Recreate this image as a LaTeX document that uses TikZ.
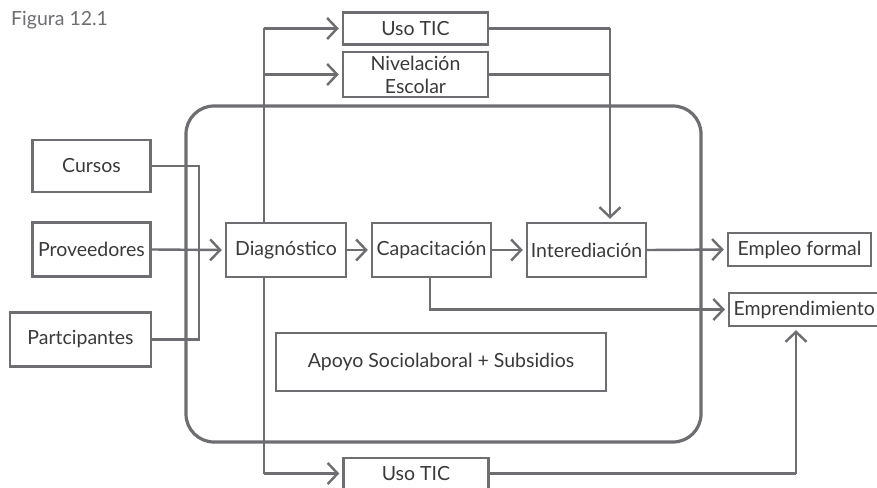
\documentclass[tikz,border=0pt]{standalone}
\usepackage{fontspec}
\setmainfont{Lato}
\usetikzlibrary{arrows.meta}
\definecolor{ln}{HTML}{6E6E72}
\definecolor{tx}{HTML}{3A3A3C}
\begin{document}
\begin{tikzpicture}[x=1pt,y=-1pt,
  box/.style={draw=ln,line width=2.4pt,fill=white,text=tx,font=\fontsize{19.5}{23}\selectfont,inner sep=1pt,align=center},
  con/.style={draw=ln,line width=2.4pt},
  arr/.style={con,-{Straight Barb[length=10pt,width=21pt]},shorten >=3pt}]
\clip (0,0) rectangle (877,487);
\fill[white] (0,0) rectangle (877,487);
\node[text=ln,font=\fontsize{19.5}{23}\selectfont,anchor=west,inner sep=0pt] (fig) at (11,20) {Figura 12.1};
% big rounded rectangle
\draw[ln,line width=3.2pt,rounded corners=28pt] (186,106) rectangle (701,442);
% helper verticals
\coordinate (dv) at (264,0);
\coordinate (rv) at (610,0);
\coordinate (jl) at (199,0);
\coordinate (ev) at (796,0);
% boxes
\node[box,minimum width=145pt,minimum height=32pt] (usotop) at (415.5,28.5) {Uso TIC};
\node[box,minimum width=145pt,minimum height=45pt] (nivel) at (415.5,74.5) {Nivelación\\Escolar};
\node[box,minimum width=118pt,minimum height=52pt] (cursos) at (91.5,166) {Cursos};
\node[box,minimum width=118pt,minimum height=54pt] (prov) at (91.5,249.5) {Proveedores};
\node[box,minimum width=141pt,minimum height=54pt] (partic) at (80.5,339.5) {Partcipantes};
\node[box,minimum width=120pt,minimum height=54pt] (diag) at (286,250) {Diagnóstico};
\node[box,minimum width=119pt,minimum height=54pt] (capac) at (431.5,250) {Capacitación};
\node[box,minimum width=119pt,minimum height=54pt] (inter) at (586.5,250) {Interediación};
\node[box,minimum width=143pt,minimum height=33pt] (empleo) at (799.5,249.5) {Empleo formal};
\node[box,minimum width=150pt,minimum height=33pt,anchor=west] (empr) at (728,309.5) {Emprendimiento};
\node[box,minimum width=330pt,minimum height=58pt] (apoyo) at (441,362) {Apoyo Sociolaboral + Subsidios};
\node[box,minimum width=145pt,minimum height=31pt] (usobot) at (416,473.5) {Uso TIC};
% connectors
\draw[con] (cursos.east) -- (cursos.east -| jl) -- (partic.east -| jl) -- (partic.east);
\draw[arr] (prov.east) -- (diag.west);
\draw[con] (diag.north -| dv) -- (usotop.west -| dv);
\draw[arr] (usotop.west -| dv) -- (usotop.west);
\draw[arr] (nivel.west -| dv) -- (nivel.west);
\draw[con] (usotop.east) -- (usotop.east -| rv);
\draw[con] (nivel.east) -- (nivel.east -| rv);
\draw[arr] (usotop.east -| rv) -- (inter.north -| rv);
\draw[arr] (diag.east) -- (capac.west);
\draw[arr] (capac.east) -- (inter.west);
\draw[arr] (inter.east) -- (empleo.west);
\draw[arr] (capac.south -| 430,0) -- (430,309.5) -- (empr.west);
\draw[con] (diag.south -| dv) -- (usobot.west -| dv);
\draw[arr] (usobot.west -| dv) -- (usobot.west);
\draw[con] (usobot.east) -- (usobot.east -| ev);
\draw[arr] (usobot.east -| ev) -- (empr.south -| ev);
\end{tikzpicture}
\end{document}
